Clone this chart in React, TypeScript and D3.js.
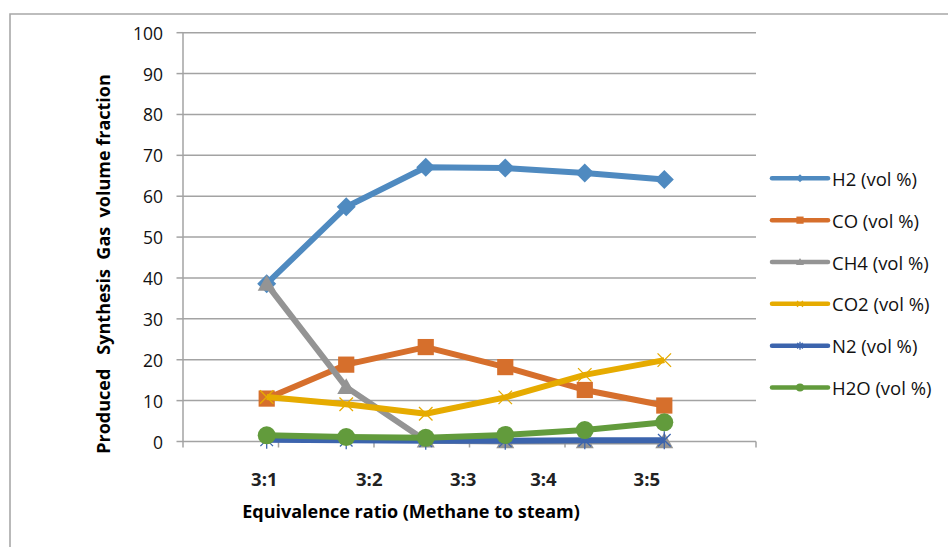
import * as d3 from "d3";

const ratios = ["3:1", "3:2", "3:3", "3:4", "3:5"];
const seriesNames = ["H2 (vol %)", "CO (vol %)", "CH4 (vol %)", "CO2 (vol %)", "N2 (vol %)", "H2O (vol %)"];

const h2 = [38.6, 57.4, 67.1, 66.9, 65.7, 64.1];
const co = [10.5, 18.8, 23.1, 18.2, 12.6, 8.8];
const ch4 = [38.5, 13.3, 0.2, 0, 0, 0];
const co2 = [10.9, 9.1, 6.8, 10.8, 16.3, 19.9];
const n2 = [0.4, 0.3, 0.2, 0.2, 0.3, 0.3];
const h2o = [1.5, 1.1, 0.9, 1.6, 2.8, 4.7];

const yTicks = [0, 10, 20, 30, 40, 50, 60, 70, 80, 90, 100];

const W = 948;
const H = 547;
const colors = ["#4f8ac0", "#d66f2c", "#949494", "#e6ab00", "#3c64ad", "#629b3c"];
const markerTypes = ["diamond", "square", "triangle", "x", "star", "circle"];
const gridColor = "#a3a3a3";
const font = "'Open Sans', 'Liberation Sans', sans-serif";

// where the category labels sit, in point-index units (they are not centred on the points)
const labelAt = [-0.03, 1.29, 2.47, 3.48, 4.78];

const Marker = ({ type, x, y, color, s }: { type: string, x: number, y: number, color: string, s: number }) => {
    const r = s / 2;
    if (type === "diamond") {
        return <path d={`M${x},${y - r}L${x + r},${y}L${x},${y + r}L${x - r},${y}Z`} fill={color} />;
    }
    if (type === "square") {
        return <rect x={x - r * 0.9} y={y - r * 0.9} width={r * 1.8} height={r * 1.8} fill={color} />;
    }
    if (type === "triangle") {
        return <path d={`M${x},${y - r}L${x + r},${y + r * 0.75}L${x - r},${y + r * 0.75}Z`} fill={color} />;
    }
    if (type === "circle") {
        return <circle cx={x} cy={y} r={r} fill={color} />;
    }
    if (type === "x") {
        const q = r * 0.75;
        return <path d={`M${x - q},${y - q}L${x + q},${y + q}M${x - q},${y + q}L${x + q},${y - q}`} stroke={color} strokeWidth={1.3} fill="none" />;
    }
    const q = r * 0.7;
    return <path d={`M${x - q},${y - q}L${x + q},${y + q}M${x - q},${y + q}L${x + q},${y - q}M${x},${y - r}L${x},${y + r}`} stroke={color} strokeWidth={1.3} fill="none" />;
};

export default function App() {
    const series = [h2, co, ch4, co2, n2, h2o];

    const plot = { l: 183, r: 756, t: 32.7, b: 441.5 };
    const y = d3.scaleLinear().domain([0, 100]).range([plot.b, plot.t]);
    const band = d3.scaleBand<number>().domain(d3.range(6)).range([plot.l, plot.r]);
    const x = d3.scaleLinear().domain([0, 5]).range([266.7, 664.3]);

    const line = d3.line<number>()
        .x((_, i) => x(i))
        .y(d => y(d));

    const tickEdges = d3.range(7).map(k => plot.l + band.step() * k);

    return (
        <svg width={W} height={H} style={{ position: "absolute", left: 0, top: 0, background: "#fff" }}>
            <path d={`M10,${H}L10,14L${W},14`} fill="none" stroke="#a8a8a8" strokeWidth={1.6} />

            {yTicks.map(t => (
                <g key={t}>
                    {t > 0 && <line x1={plot.l} x2={plot.r} y1={y(t)} y2={y(t)} stroke={gridColor} strokeWidth={1.5} />}
                    <line x1={plot.l - 6.5} x2={plot.l} y1={y(t)} y2={y(t)} stroke={gridColor} strokeWidth={1.5} />
                    <text x={163} y={y(t)} textAnchor="end" dominantBaseline="central"
                          fontFamily={font} fontSize={17.5} fill="#111">{t}</text>
                </g>
            ))}
            <line x1={plot.l} x2={plot.l} y1={plot.t} y2={plot.b} stroke={gridColor} strokeWidth={1.5} />
            <line x1={plot.l} x2={plot.r} y1={plot.b} y2={plot.b} stroke={gridColor} strokeWidth={1.5} />
            {tickEdges.map((tx, k) => (
                <line key={k} x1={tx} x2={tx} y1={plot.b} y2={plot.b + 6} stroke={gridColor} strokeWidth={1.5} />
            ))}

            {ratios.map((r, i) => (
                <text key={r} x={x(labelAt[i])} y={478} textAnchor="middle" dominantBaseline="central"
                      fontFamily={font} fontWeight={700} fontSize={18.5} fill="#222">{r}</text>
            ))}

            <text x={411} y={511} textAnchor="middle" dominantBaseline="central"
                  fontFamily={font} fontWeight={700} fontSize={18} fill="#000">Equivalence ratio (Methane to steam)</text>
            <text transform="translate(103,264) rotate(-90)" textAnchor="middle" dominantBaseline="central"
                  fontFamily={font} fontWeight={700} fontSize={18} fill="#000" style={{ whiteSpace: "pre" }}>
                {"Produced   Synthesis  Gas  volume fraction"}
            </text>

            {series.map((vals, si) => (
                <g key={si}>
                    <path d={line(vals) || ""} fill="none" stroke={colors[si]} strokeWidth={6} strokeLinejoin="round" />
                    {vals.map((v, i) => (
                        <Marker key={i} type={markerTypes[si]} x={x(i)} y={y(v)} color={colors[si]} s={si === 0 ? 19 : 18} />
                    ))}
                </g>
            ))}

            {seriesNames.map((name, si) => {
                const ly = 178.3 + si * 41.85;
                return (
                    <g key={name}>
                        <line x1={772} x2={828} y1={ly} y2={ly} stroke={colors[si]} strokeWidth={4.5} strokeLinecap="round" />
                        <Marker type={markerTypes[si]} x={800} y={ly} color={colors[si]} s={8} />
                        <text x={832} y={ly} dominantBaseline="central" fontFamily={font} fontSize={18.5} fill="#111">{name}</text>
                    </g>
                );
            })}
        </svg>
    );
}
